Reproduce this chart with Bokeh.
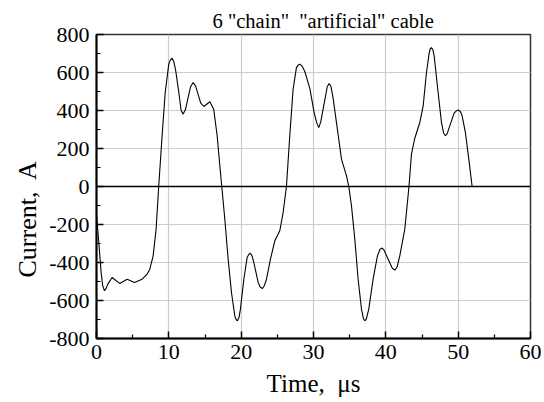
from bokeh.plotting import figure
from bokeh.models import Range1d, FixedTicker, Span, Title
from bokeh.embed import file_html
from bokeh.resources import INLINE

# Data
time_us = [0.0, 0.32, 0.64, 0.85, 1.1, 1.35, 1.56, 2.16, 3.2, 4.24, 5.25, 6.3, 7.0, 7.37,
           7.83, 8.24, 8.6, 9.07, 9.5, 9.99, 10.2, 10.46, 10.7, 10.92, 11.38, 11.7,
           11.98, 12.3, 12.62, 13.0, 13.36, 13.7, 13.9, 14.4, 14.84, 15.67, 16.2,
           16.68, 17.05, 17.32, 17.74, 18.2, 18.66, 19.12, 19.3, 19.49, 19.7, 19.9,
           20.37, 20.82, 21.05, 21.28, 21.5, 21.75, 22.35, 22.65, 22.95, 23.2, 23.5,
           24.05, 24.65, 25.34, 25.8, 26.26, 26.72, 27.18, 27.64, 27.9, 28.1, 28.4,
           28.8, 29.49, 30.09, 30.45, 30.73, 31.0, 31.33, 31.9, 32.16, 32.4, 32.7,
           33.3, 33.87, 34.56, 34.88, 35.25, 35.71, 36.17, 36.63, 36.9, 37.09, 37.3,
           37.64, 38.24, 38.84, 39.2, 39.49, 39.8, 40.1, 40.9, 41.24, 41.55, 41.93,
           42.62, 43.2, 43.54, 44.0, 44.7, 45.16, 45.62, 46.0, 46.15, 46.31, 46.5,
           46.68, 47.23, 47.69, 48.0, 48.24, 48.5, 48.84, 49.44, 49.75, 50.0, 50.3,
           50.55, 51.0, 51.47, 51.93]
current_a = [-146, -295, -452, -520, -549, -535, -514, -479, -510, -488, -505, -488, -461, -435,
             -365, -225, 0, 267, 495, 644, 665, 675, 655, 617, 495, 400,
             381, 405, 460, 525, 547, 530, 503, 440, 421, 446, 407,
             267, 109, 0, -172, -382, -558, -681, -700, -707, -690, -645,
             -488, -374, -358, -351, -365, -400, -505, -530, -537, -522, -488,
             -382, -286, -233, -137, 0, 267, 512, 626, 640, 644, 635,
             605, 516, 389, 335, 310, 340, 407, 525, 542, 528, 468,
             302, 144, 56, 0, -102, -277, -488, -645, -695, -707, -698,
             -645, -488, -365, -330, -324, -338, -365, -430, -440, -425, -365,
             -225, 0, 170, 254, 337, 424, 600, 705, 725, 731, 720,
             688, 495, 337, 280, 267, 280, 319, 386, 398, 403, 395,
             372, 284, 144, 0]

x_ticks = [0, 10, 20, 30, 40, 50, 60]
x_tick_labels = ["0", "10", "20", "30", "40", "50", "60"]
y_ticks = [-800, -600, -400, -200, 0, 200, 400, 600, 800]
y_tick_labels = ["-800", "-600", "-400", "-200", "0", "200", "400", "600", "800"]
x_minor = [5, 15, 25, 35, 45, 55]
y_minor = [-700, -500, -300, -100, 100, 300, 500, 700]

NBSP = "\u00a0"
title_text = '6 "chain"' + NBSP + ' "artificial" cable'
x_label = "Time," + NBSP + " \u03bcs"
y_label = "Current," + NBSP + " A"

FONT = "Liberation Serif"
QFONT = "'Liberation Serif', serif"

p = figure(width=544, height=402, output_backend="svg", toolbar_location=None,
           x_range=Range1d(0, 60), y_range=Range1d(-800, 800),
           min_border_left=96, min_border_right=14,
           min_border_top=34, min_border_bottom=64)

p.add_layout(Title(text=title_text, text_font=QFONT, text_font_size="20.5px",
                   text_font_style="normal", text_color="black", align="left",
                   offset=116, standoff=5), "above")

# y-axis title, placed below the frame centre as in the reference
p.add_layout(Title(text=y_label, text_font=QFONT, text_font_size="26px",
                   text_font_style="normal", text_color="black", align="left",
                   offset=61, standoff=10), "left")

p.line(time_us, current_a, line_color="black", line_width=1.1)

p.add_layout(Span(location=0, dimension="width", line_color="black", line_width=1.5))

p.xaxis.ticker = FixedTicker(ticks=x_ticks, minor_ticks=x_minor)
p.yaxis.ticker = FixedTicker(ticks=y_ticks, minor_ticks=y_minor)
p.xaxis.major_label_overrides = dict(zip(x_ticks, x_tick_labels))
p.yaxis.major_label_overrides = dict(zip(y_ticks, y_tick_labels))

for ax in (p.xaxis, p.yaxis):
    ax.major_label_text_font = FONT
    ax.major_label_text_font_size = "22px"
    ax.major_label_text_color = "black"
    ax.axis_label_text_font = FONT
    ax.axis_label_text_font_size = "25px"
    ax.axis_label_text_font_style = "normal"
    ax.axis_label_text_color = "black"
    ax.axis_line_color = "black"
    ax.axis_line_width = 2
    ax.major_tick_in = 7
    ax.major_tick_out = 0
    ax.minor_tick_in = 4
    ax.minor_tick_out = 0
    ax.major_tick_line_color = "black"
    ax.minor_tick_line_color = "black"
    ax.major_tick_line_width = 1.5
    ax.minor_tick_line_width = 1.2

p.xaxis.axis_label = x_label
p.xaxis.major_label_standoff = 6
p.yaxis.major_label_standoff = 7
p.xaxis.axis_label_standoff = 8

p.xgrid.ticker = FixedTicker(ticks=x_ticks)
p.ygrid.ticker = FixedTicker(ticks=y_ticks)
p.grid.grid_line_color = "#cccccc"
p.grid.grid_line_width = 1.2

p.outline_line_color = "#333333"
p.outline_line_width = 1.5
p.background_fill_color = "white"
p.border_fill_color = "white"

open("out.html", "w").write(file_html(p, INLINE))
